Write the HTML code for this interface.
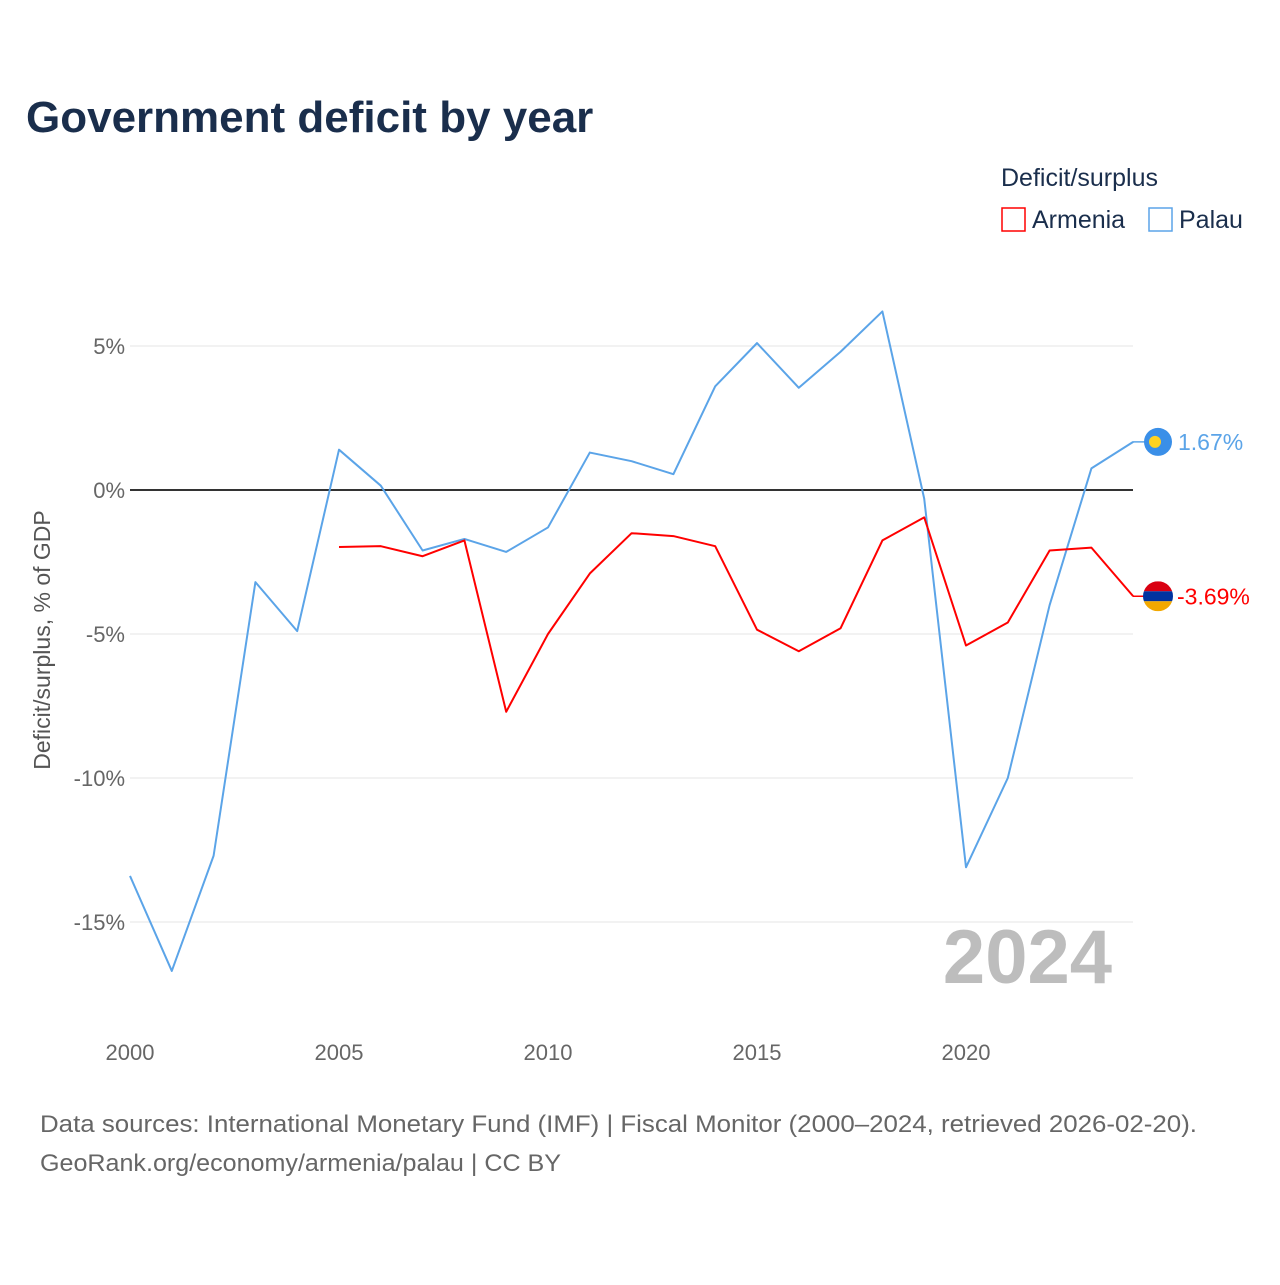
<!DOCTYPE html>
<html><head><meta charset="utf-8"><style>
body{margin:0;background:#fff;font-family:"Liberation Sans",sans-serif;}
</style></head><body>
<svg id="chart" width="1280" height="1280" xmlns="http://www.w3.org/2000/svg">
<rect width="1280" height="1280" fill="#fff"/>
<text x="26" y="132" font-size="44" font-weight="bold" fill="#1a2e4c">Government deficit by year</text>
<text x="1001" y="186" font-size="25" fill="#1a2e4c">Deficit/surplus</text>
<g><rect x="1002" y="208" width="23" height="23" fill="none" stroke="#ff0000" stroke-width="1.5"/><text x="1032" y="228" font-size="25" fill="#1a2e4c">Armenia</text></g>
<g><rect x="1149" y="208" width="23" height="23" fill="none" stroke="#5ba4e8" stroke-width="1.5"/><text x="1179" y="228" font-size="25" fill="#1a2e4c">Palau</text></g>
<text transform="translate(50,640) rotate(-90)" text-anchor="middle" font-size="23" fill="#555">Deficit/surplus, % of GDP</text>
<text x="1112" y="983" text-anchor="end" font-size="76" font-weight="bold" fill="#bdbdbd">2024</text>
<g id="grid"></g><g id="series"></g>
<text x="40" y="1132" font-size="24" fill="#666" textLength="1157" lengthAdjust="spacingAndGlyphs">Data sources: International Monetary Fund (IMF) | Fiscal Monitor (2000–2024, retrieved 2026-02-20).</text>
<text x="40" y="1171" font-size="24" fill="#666" textLength="521" lengthAdjust="spacingAndGlyphs">GeoRank.org/economy/armenia/palau | CC BY</text>
</svg>
<script>
const years=[2000,2001,2002,2003,2004,2005,2006,2007,2008,2009,2010,2011,2012,2013,2014,2015,2016,2017,2018,2019,2020,2021,2022,2023,2024];
const palau=[-13.4,-16.7,-12.7,-3.2,-4.9,1.4,0.15,-2.1,-1.7,-2.15,-1.3,1.3,1.0,0.55,3.6,5.1,3.55,4.8,6.2,-0.3,-13.1,-10.0,-4.0,0.75,1.67];
const armenia=[null,null,null,null,null,-1.98,-1.95,-2.3,-1.75,-7.7,-5.0,-2.9,-1.5,-1.6,-1.95,-4.85,-5.6,-4.8,-1.75,-0.95,-5.4,-4.6,-2.1,-2.0,-3.69];
const yTicks=[5,0,-5,-10,-15];
const xTicks=[2000,2005,2010,2015,2020];
const NS="http://www.w3.org/2000/svg";
const xs=y=>130+(y-2000)*41.8;
const ys=v=>490-v*28.8;
const grid=document.getElementById('grid'),ser=document.getElementById('series');
function mk(tag,attrs,parent){const e=document.createElementNS(NS,tag);for(const k in attrs)e.setAttribute(k,attrs[k]);parent.appendChild(e);return e;}
yTicks.forEach(t=>{
  const l=mk('line',{x1:130,x2:1133,y1:ys(t),y2:ys(t),stroke:t===0?'#333':'#e6e6e6','stroke-width':t===0?2:1},grid);
  
  
  const tx=mk('text',{x:125,y:ys(t)+8,'text-anchor':'end','font-size':22,fill:'#666'},grid);
  tx.textContent=t+'%';
  
  
});
xTicks.forEach(t=>{
  const tx=mk('text',{x:xs(t),y:1060,'text-anchor':'middle','font-size':22,fill:'#666'},grid);
  tx.textContent=t;
  
  
});
function line(vals,color,name){
  const pts=[];vals.forEach((v,i)=>{if(v!==null)pts.push(xs(years[i])+','+ys(v));});
  const p=mk('polyline',{points:pts.join(' '),fill:'none',stroke:color,'stroke-width':2,'stroke-linejoin':'round'},ser);
  
  
}
line(palau,'#5ba4e8','palau-line');
line(armenia,'#ff0000','armenia-line');
const lastP=palau[palau.length-1],lastA=armenia[armenia.length-1];
const pl=mk('line',{x1:1133,x2:1158,y1:ys(lastP),y2:ys(lastP),stroke:'#5ba4e8','stroke-width':1.5},ser);

const al=mk('line',{x1:1133,x2:1158,y1:ys(lastA),y2:ys(lastA),stroke:'#ff0000','stroke-width':1.5},ser);

const pf=mk('g',{},ser);

mk('circle',{cx:1158,cy:ys(lastP),r:14,fill:'#3a8fe8'},pf);
mk('circle',{cx:1155,cy:ys(lastP),r:6,fill:'#ffd21f'},pf);
const af=mk('g',{},ser);

mk('clipPath',{id:'ac'},af).appendChild(document.createElementNS(NS,'circle'));
const c=af.querySelector('clipPath circle');c.setAttribute('cx',1158);c.setAttribute('cy',ys(lastA));c.setAttribute('r',15);
const ay=ys(lastA);
mk('rect',{x:1143,y:ay-15,width:30,height:10,fill:'#d90012','clip-path':'url(#ac)'},af);
mk('rect',{x:1143,y:ay-5,width:30,height:10,fill:'#0033a0','clip-path':'url(#ac)'},af);
mk('rect',{x:1143,y:ay+5,width:30,height:10,fill:'#f2a800','clip-path':'url(#ac)'},af);
const pv=mk('text',{x:1178,y:ys(lastP)+8,'font-size':23,fill:'#5ba4e8'},ser);
pv.textContent=lastP.toFixed(2)+'%';

const av=mk('text',{x:1177,y:ys(lastA)+8,'font-size':23,fill:'#ff0000'},ser);
av.textContent=lastA.toFixed(2)+'%';

</script>
</body></html>
